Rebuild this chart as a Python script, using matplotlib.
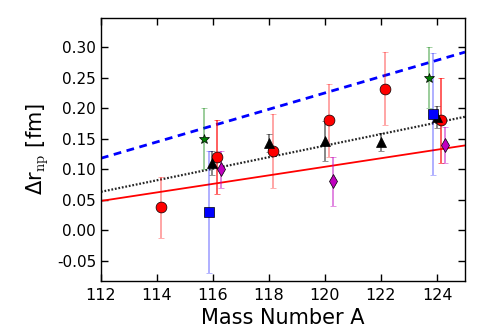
import numpy as np
import matplotlib
matplotlib.use('Agg')
import matplotlib.pyplot as plt

plt.rcParams['mathtext.fontset'] = 'cm'

## data
fit_x = [112, 125]
fit_blue = [0.118, 0.292]
fit_black = [0.063, 0.186]
fit_red = [0.048, 0.139]

red_a_x = [114.15, 118.15, 120.13, 122.13]
red_a_y = [0.038, 0.130, 0.180, 0.232]
red_a_e = [0.050, 0.060, 0.060, 0.060]

red_b_x = [116.15, 124.15]
red_b_y = [0.120, 0.180]
red_b_e = [0.060, 0.070]

tri_x = [115.96, 118.0, 120.0, 122.0, 124.0]
tri_y = [0.110, 0.143, 0.146, 0.145, 0.185]
tri_e = [0.020, 0.015, 0.033, 0.015, 0.018]

sq_x = [115.85, 123.85]
sq_y = [0.030, 0.190]
sq_e = [0.100, 0.100]

star_x = [115.68, 123.72]
star_y = [0.150, 0.250]
star_e = [0.050, 0.050]

dia_x = [116.3, 120.27, 124.27]
dia_y = [0.100, 0.080, 0.140]
dia_e = [0.030, 0.040, 0.030]

fig = plt.figure(figsize=(4.9, 3.32), dpi=100)
ax = fig.add_axes([0.206, 0.154, 0.743, 0.792])

ax.plot(fit_x, fit_blue, color='b', lw=2, linestyle=(0, (2.8, 2.0)))
ax.plot(fit_x, fit_black, color='k', lw=1.6, linestyle=(0, (0.8, 0.8)), alpha=0.85)
ax.plot(fit_x, fit_red, '-', color='r', lw=1.3)

def errpts(x, y, e, fmt, mfc, ecol, ms, alpha):
    _, caps, bars = ax.errorbar(x, y, yerr=e, fmt=fmt, mfc=mfc, mec='k', mew=0.5,
                                ms=ms, ecolor=ecol, elinewidth=1.1, capsize=2.5)
    for c in caps:
        c.set_alpha(alpha)
    for b in bars:
        b.set_alpha(alpha)

errpts(red_a_x, red_a_y, red_a_e, 'o', 'r', 'r', 7.8, 0.45)
errpts(red_b_x, red_b_y, red_b_e, 'o', 'r', 'r', 7.8, 0.8)
errpts(tri_x, tri_y, tri_e, '^', 'k', 'k', 7.5, 0.6)
errpts(sq_x, sq_y, sq_e, 's', 'b', 'b', 6.5, 0.4)
errpts(star_x, star_y, star_e, '*', 'g', 'g', 7.5, 0.5)
errpts(dia_x, dia_y, dia_e, 'd', 'm', 'm', 7.5, 0.6)

ax.set_xlim(112, 125)
ax.set_ylim(-0.083, 0.348)
ax.set_xticks(np.arange(112, 125, 2))
ax.set_yticks(np.arange(-0.05, 0.31, 0.05))
ax.yaxis.set_major_formatter(matplotlib.ticker.FormatStrFormatter('%.2f'))
ax.tick_params(direction='in', top=True, right=True, length=5, width=1, labelsize=11)
ax.tick_params(axis='x', labelsize=11.5, pad=5)
for s in ax.spines.values():
    s.set_linewidth(1)

ax.set_xlabel('Mass Number A', fontsize=15, labelpad=4)
ax.set_ylabel(r'Δr$_{\mathrm{np}}$ [fm]', fontsize=15)

fig.savefig('out.png', dpi=100)
